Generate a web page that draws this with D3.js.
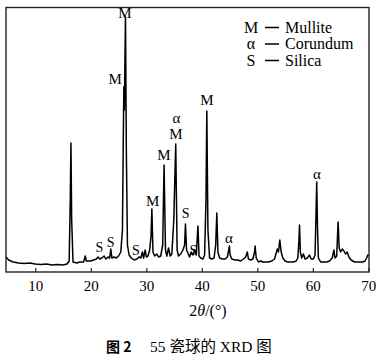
<!DOCTYPE html>
<html>
<head>
<meta charset="utf-8">
<script src="https://cdn.jsdelivr.net/npm/d3@7"></script>
<style>
html,body{margin:0;padding:0;background:#fff;}
svg{display:block;}
</style>
</head>
<body>
<svg id="chart" width="386" height="358"></svg>
<script>
// ---- data (2θ in degrees, intensity in arbitrary units) ----
const twoTheta = [4.72,5.2,6,7,8,9,10,11,12,13,14,15,15.7,16.1,16.3,16.42,16.55,16.8,17.5,18,18.7,19.0,19.2,20,20.5,21,21.3,21.6,22.0,22.4,22.7,23.1,23.4,23.6,23.8,24.2,24.6,25.0,25.4,25.7,25.85,25.95,26.05,26.15,26.25,26.4,26.6,26.9,27.3,27.8,28.3,28.7,29.0,29.3,29.5,29.8,30.0,30.3,30.6,30.85,31.0,31.2,31.5,31.9,32.2,32.6,32.95,33.2,33.45,33.7,34.0,34.3,34.6,34.95,35.3,35.55,35.8,36.2,36.6,36.9,37.05,37.25,37.5,37.8,38.1,38.4,38.7,39.0,39.3,39.5,39.8,40.2,40.5,40.75,40.9,41.1,41.4,41.8,42.2,42.5,42.7,42.9,43.2,43.7,44.2,44.6,44.85,44.96,45.1,45.4,46,46.5,47,47.5,47.9,48.2,48.4,48.8,49.2,49.5,49.6,49.8,50.2,50.6,51,51.5,52,52.6,53.1,53.4,53.6,53.8,54.05,54.3,54.6,55,55.5,56,56.5,57,57.3,57.5,57.6,57.75,58,58.3,58.6,59,59.4,59.7,60.1,60.4,60.55,60.7,60.85,61.0,61.4,62,62.5,63,63.5,63.8,64.0,64.3,64.55,64.75,65.0,65.3,65.6,65.9,66.2,66.5,66.9,67.5,68,68.5,69,69.4,69.7,69.9,70.1];
const intensity = [75,60,50,45,42,45,40,38,40,35,38,35,40,55,360,645,260,50,45,50,50,80,55,55,60,65,75,65,70,80,65,75,70,115,70,75,70,80,100,210,660,925,810,1060,1275,610,135,85,70,60,65,75,70,100,70,110,75,80,110,180,315,100,80,90,75,80,135,535,110,80,120,80,90,260,640,110,80,90,110,135,240,110,95,75,100,85,110,85,230,80,70,65,85,360,805,210,70,65,70,135,295,100,70,65,65,75,110,130,85,65,60,60,55,65,75,100,65,60,65,100,130,70,50,55,50,50,50,55,65,95,115,100,160,100,70,55,50,50,50,55,70,160,235,100,70,90,65,70,85,65,65,85,260,450,210,70,50,50,50,55,70,110,70,80,250,120,100,115,105,90,100,75,60,50,50,50,50,55,70,85,80];

// phase labels on peaks
const peakLabelText  = ["M","M","M","M","α","M","M","α","α","S","S","S","S","S"];
const peakLabelTheta = [26.16,24.38,31.15,33.19,35.44,35.35,40.94,44.9,60.76,21.53,23.59,28.14,37.1,38.47];
const peakLabelLevel = [1295,965,355,585,770,690,860,170,490,127,152,110,293,110];

// legend
const legendSymbols = ["M","α","S"];
const legendNames = ["Mullite","Corundum","Silica"];

// axis ticks
const xTicks = [10,20,30,40,50,60,70];

// ---- drawing ----
const svg = d3.select("#chart");
const pL = 6, pR = 369, pT = 8, pB = 272;
const x = d3.scaleLinear().domain([4.72, 70.12]).range([pL, pR]);
const y = d3.scaleLinear().domain([0, 1320]).range([pB, pT]);

const serif = "'Liberation Serif','Times New Roman',serif";

// trace
const pts = twoTheta.map((t,i)=>[t,intensity[i]]);
svg.append("path")
  .datum(pts)
  .attr("fill","none")
  .attr("stroke","#000")
  .attr("stroke-width",1.5)
  .attr("stroke-linejoin","round")
  .attr("d", d3.line().x(d=>x(d[0])).y(d=>y(d[1])));

// frame
svg.append("rect")
  .attr("x",pL).attr("y",pT-0.5)
  .attr("width",pR-pL).attr("height",pB-pT+0.5)
  .attr("fill","none").attr("stroke","#222").attr("stroke-width",1.4);

// x axis
const ax = svg.append("g")
  .attr("transform",`translate(0,${pB})`)
  .call(d3.axisBottom(x).tickValues(xTicks).tickSizeInner(-4).tickSizeOuter(0).tickPadding(8));
ax.select(".domain").remove();
ax.selectAll(".tick line").attr("stroke","#222").attr("stroke-width",1.2);
ax.selectAll(".tick text")
  .attr("font-family",serif).attr("font-size",15).attr("fill","#000");

// axis title 2θ/(°)
const tt = svg.append("text")
  .attr("x",208).attr("y",316)
  .attr("text-anchor","middle")
  .attr("font-family",serif).attr("font-size",16).attr("fill","#000");
tt.append("tspan").text("2");
tt.append("tspan").attr("font-style","italic").text("θ");
tt.append("tspan").text("/(°)");

// peak labels
svg.append("g").selectAll("text")
  .data(peakLabelText)
  .join("text")
  .attr("x",(d,i)=>x(peakLabelTheta[i]))
  .attr("y",(d,i)=>y(peakLabelLevel[i]))
  .attr("dy","0.35em")
  .attr("text-anchor","middle")
  .attr("font-family",serif)
  .attr("font-size",d=>d==="S"?14:15)
  .attr("fill","#000")
  .text(d=>d);

// legend
const lg = svg.append("g");
legendSymbols.forEach((s,i)=>{
  const cy = 27 + i*16.5;
  lg.append("text").attr("x",251).attr("y",cy).attr("dy","0.35em")
    .attr("text-anchor","middle").attr("font-family",serif).attr("font-size",16)
    .attr("fill","#000").text(s);
  lg.append("line").attr("x1",265).attr("x2",279).attr("y1",cy+0.5).attr("y2",cy+0.5)
    .attr("stroke","#000").attr("stroke-width",1.5);
  lg.append("text").attr("x",285).attr("y",cy).attr("dy","0.35em")
    .attr("font-family",serif).attr("font-size",16)
    .attr("fill","#000").text(legendNames[i]);
});

// caption
svg.append("text").attr("x",106).attr("y",352)
  .attr("font-family","'Noto Sans CJK SC',sans-serif").attr("font-weight","bold")
  .attr("font-size",14).attr("fill","#000").text("图 2");
svg.append("text").attr("x",150).attr("y",352)
  .attr("font-family",serif+",'Noto Sans CJK SC'")
  .attr("font-size",15.5).attr("fill","#000").text("55 瓷球的 XRD 图");
</script>
</body>
</html>
